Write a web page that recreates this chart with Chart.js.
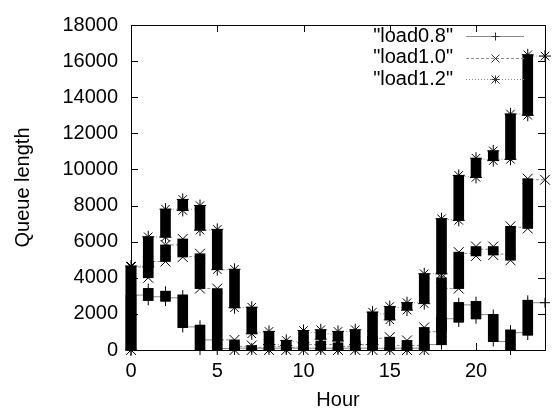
<!DOCTYPE html>
<html>
<head>
<title>Queue length by hour</title>
<script src="https://cdn.jsdelivr.net/npm/chart.js"></script>
<style>
  body { margin: 0; background: #fff; }
</style>
</head>
<body>
<canvas id="chart" width="553" height="412"></canvas>
<script>
// hours of the day, one bar of samples per hour
const hours = [0, 1, 2, 3, 4, 5, 6, 7, 8, 9, 10, 11, 12, 13, 14, 15, 16, 17, 18, 19, 20, 21, 22, 23];
const xTicks = [0, 5, 10, 15, 20];

// load0.8: lowest / highest queue in each hour, and queue at end of the hour
const lo08 = [0, 2750, 2710, 1250, 0, 0, 0, 0, 0, 0, 0, 0, 0, 0, 0, 0, 0, 0, 300, 1550, 1730, 470, 0, 830];
const hi08 = [3040, 3400, 3250, 3040, 1370, 560, 150, 120, 120, 100, 100, 100, 100, 100, 150, 150, 150, 300, 1800, 2620, 2680, 1960, 1100, 2750];
const end08 = [3040, 2950, 2890, 1280, 560, 80, 100, 100, 100, 100, 100, 100, 100, 100, 100, 100, 100, 300, 1730, 2500, 1960, 470, 960, 2620];

// load1.0
const lo10 = [0, 4000, 4900, 5150, 3400, 560, 0, 0, 0, 0, 0, 0, 0, 0, 0, 0, 0, 0, 1010, 3400, 5210, 5260, 4970, 6730];
const hi10 = [4600, 4900, 5820, 6150, 5330, 3400, 560, 250, 300, 250, 450, 500, 400, 500, 750, 710, 530, 1250, 4000, 5420, 5730, 5730, 6850, 9490];
const end10 = [4600, 4900, 5820, 5170, 3400, 560, 200, 150, 200, 150, 300, 300, 200, 300, 650, 240, 240, 1010, 3400, 5350, 5580, 5310, 6800, 9430];

// load1.2
const lo12 = [0, 4600, 6250, 7730, 6640, 4450, 2340, 900, 300, 250, 400, 600, 500, 300, 300, 1670, 2210, 2570, 4220, 7180, 9560, 10490, 10560, 13000];
const hi12 = [4650, 6270, 7800, 8340, 8000, 6680, 4470, 2370, 1030, 530, 1080, 1120, 1030, 1120, 2100, 2410, 2620, 4220, 7270, 9670, 10620, 11030, 13070, 16350];
const end12 = [4650, 6260, 7800, 7800, 6640, 4450, 2350, 960, 300, 470, 960, 890, 1030, 300, 2000, 2350, 2620, 4220, 7220, 9610, 10560, 10560, 13070, 16280];

const FONT = '"Liberation Sans", Arial, sans-serif';

const series = [
  { label: '"load0.8"', lo: lo08, hi: hi08, end: end08, marker: 'cross', radius: 5, dash: [] },
  { label: '"load1.0"', lo: lo10, hi: hi10, end: end10, marker: 'crossRot', radius: 7, dash: [3, 2] },
  { label: '"load1.2"', lo: lo12, hi: hi12, end: end12, marker: 'star', radius: 6, dash: [1, 2] },
];

const datasets = [];
series.forEach(s => {
  // thin connecting line: runs through each hour's bar, then across to the next hour
  datasets.push({
    type: 'line',
    label: s.label,
    order: 3,
    data: [{ x: 0, y: 0 }].concat(hours.flatMap(h => [{ x: h, y: s.end[h] }, { x: h + 1, y: s.end[h] }])),
    borderColor: '#8a8a8a',
    borderWidth: 1,
    borderDash: s.dash,
    pointRadius: 0,
    tension: 0,
    fill: false,
  });
  // the dense samples of one hour pile up into a black bar
  datasets.push({
    type: 'bar',
    label: s.label,
    order: 2,
    data: hours.map(h => ({ x: h, y: [s.lo[h], s.hi[h]] })),
    backgroundColor: '#000',
    barThickness: 10,
    grouped: false,
    clip: false,
  });
  // markers at both ends of each bar and at the last sample
  datasets.push({
    type: 'scatter',
    label: s.label,
    order: 1,
    data: hours.flatMap(h => [{ x: h, y: s.lo[h] }, { x: h, y: s.hi[h] }]).concat([{ x: 24, y: s.end[23] }]),
    pointStyle: s.marker,
    pointRadius: s.radius,
    borderColor: '#000',
    backgroundColor: '#000',
    borderWidth: 1,
    clip: false,
  });
});

function drawMarker(ctx, style, cx, cy, r) {
  ctx.beginPath();
  if (style === 'cross' || style === 'star') {
    ctx.moveTo(cx - r, cy); ctx.lineTo(cx + r, cy);
    ctx.moveTo(cx, cy - r); ctx.lineTo(cx, cy + r);
  }
  if (style === 'crossRot' || style === 'star') {
    ctx.moveTo(cx - r, cy - r); ctx.lineTo(cx + r, cy + r);
    ctx.moveTo(cx - r, cy + r); ctx.lineTo(cx + r, cy - r);
  }
  ctx.stroke();
}

const gnuplotFrame = {
  id: 'gnuplotFrame',
  afterDraw(chart) {
    const { ctx, chartArea: a, scales: { x, y } } = chart;
    ctx.save();
    ctx.strokeStyle = '#000';
    ctx.lineWidth = 1;
    ctx.strokeRect(a.left + 0.5, a.top + 0.5, a.right - a.left, a.bottom - a.top);

    // inward tick marks, mirrored
    ctx.beginPath();
    y.ticks.forEach(t => {
      const py = Math.round(y.getPixelForValue(t.value)) + 0.5;
      ctx.moveTo(a.left, py); ctx.lineTo(a.left + 7, py);
      ctx.moveTo(a.right, py); ctx.lineTo(a.right - 7, py);
    });
    x.ticks.forEach(t => {
      const px = Math.round(x.getPixelForValue(t.value)) + 0.5;
      ctx.moveTo(px, a.bottom); ctx.lineTo(px, a.bottom - 7);
      ctx.moveTo(px, a.top); ctx.lineTo(px, a.top + 7);
    });
    ctx.stroke();

    // key, top right
    ctx.font = '20px ' + FONT;
    ctx.textAlign = 'right';
    ctx.textBaseline = 'middle';
    series.forEach((s, i) => {
      const ly = 36 + i * 21.5;
      ctx.fillStyle = '#000';
      ctx.fillText(s.label, 453, ly);
      ctx.strokeStyle = '#8a8a8a';
      ctx.setLineDash(s.dash);
      ctx.beginPath();
      ctx.moveTo(466, Math.round(ly) + 0.5);
      ctx.lineTo(524, Math.round(ly) + 0.5);
      ctx.stroke();
      ctx.setLineDash([]);
      ctx.strokeStyle = '#333';
      drawMarker(ctx, s.marker, 495.5, Math.round(ly) + 0.5, 4);
    });
    ctx.restore();
  }
};

new Chart(document.getElementById('chart'), {
  type: 'scatter',
  data: { datasets },
  options: {
    responsive: false,
    animation: false,
    layout: { padding: { top: 16, right: 4, left: 0, bottom: 0 } },
    plugins: {
      legend: { display: false },
      tooltip: { enabled: false },
    },
    scales: {
      x: {
        type: 'linear',
        min: 0,
        max: 24,
        offset: false,
        afterBuildTicks: scale => { scale.ticks = xTicks.map(v => ({ value: v })); },
        afterFit: scale => { scale.height = 62; },
        grid: { display: false, drawTicks: false },
        border: { display: false },
        ticks: { color: '#000', padding: 9, font: { size: 20, family: FONT }, callback: v => String(v) },
        title: { display: true, text: 'Hour', color: '#000', font: { size: 20, family: FONT }, padding: { top: 0, bottom: 0 } },
      },
      y: {
        type: 'linear',
        min: 0,
        max: 18000,
        afterFit: scale => { scale.width = 131; },
        grid: { display: false, drawTicks: false },
        border: { display: false },
        ticks: { stepSize: 2000, color: '#000', padding: 13, font: { size: 20, family: FONT }, callback: v => String(v) },
        title: { display: true, text: 'Queue length', color: '#000', font: { size: 20, family: FONT }, padding: { top: 11, bottom: 0 } },
      },
    },
  },
  plugins: [gnuplotFrame],
});
</script>
</body>
</html>
